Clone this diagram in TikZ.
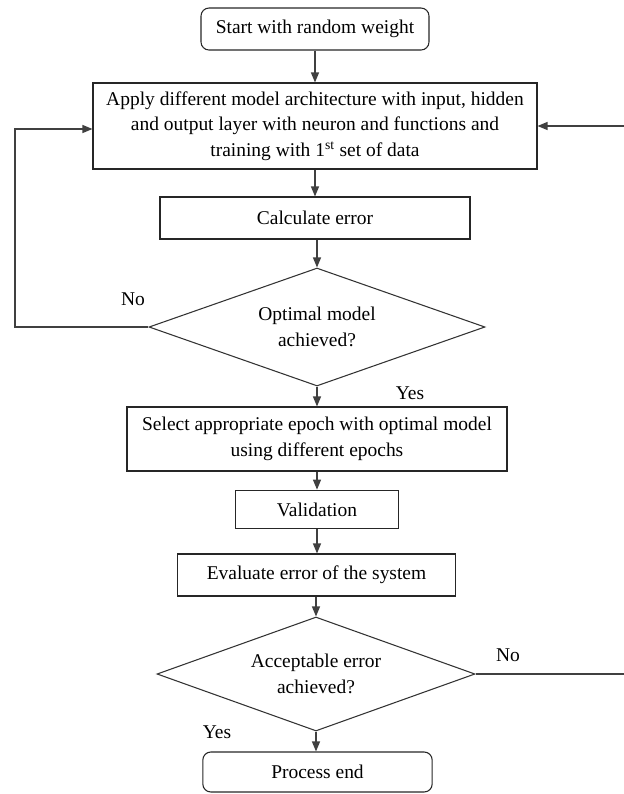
\documentclass[tikz,border=0pt]{standalone}
\usepackage{fontspec}
\setmainfont{Liberation Serif}
\usepackage{tikz}
\usetikzlibrary{arrows.meta,shapes.geometric,calc}

\tikzset{
  box/.style={draw=black!85, line width=0.8pt, align=center, inner sep=2pt},
  rbox/.style={box, rounded corners=6pt},
  decide/.style={draw=black!80, line width=0.8pt, diamond, aspect=2.8, inner sep=0pt, align=center},
  line/.style={draw=black!75, line width=0.9pt},
  arr/.style={line, -{Triangle[width=6pt,length=7.5pt]}},
  lbl/.style={inner sep=1pt}
}

\begin{document}
\begin{tikzpicture}[x=0.75pt, y=-0.75pt, font=\fontsize{14.6}{19}\selectfont]
\useasboundingbox (0,0) rectangle (624,794);
% boxes
\node[rbox, minimum width=171pt, minimum height=31.5pt] (start) at (315,29) {Start with random weight};
\node[box, minimum width=333pt, minimum height=64.5pt] (apply) at (315,126) {Apply different model architecture with input, hidden\\and output layer with neuron and functions and\\training with 1\textsuperscript{st} set of data};
\node[box, minimum width=232.5pt, minimum height=31.5pt] (calc) at (315,218) {Calculate error};
\node[decide, minimum width=252pt, minimum height=88.5pt] (opt) at (317,327) {Optimal model\\achieved?};
\node[box, minimum width=285pt, minimum height=48pt] (select) at (317,439) {Select appropriate epoch with optimal model\\using different epochs};
\node[box, minimum width=122pt, minimum height=29pt] (valid) at (317,509.5) {Validation};
\node[box, minimum width=208pt, minimum height=31.5pt] (eval) at (316.5,575) {Evaluate error of the system};
\node[decide, minimum width=238.5pt, minimum height=85.5pt] (accept) at (316,674) {Acceptable error\\achieved?};
\node[rbox, minimum width=172pt, minimum height=30pt] (stop) at (317.5,772) {Process end};
% loop ends
\coordinate (loopL) at (15,0);
\coordinate (loopR) at (640,0);
% labels
\node[lbl] (no1) at (133,299) {No};
\node[lbl] (yes1) at (410,393) {Yes};
\node[lbl] (no2) at (508,655) {No};
\node[lbl] (yes2) at (217,732) {Yes};
% connectors
\draw[arr] (start) -- (start |- apply.north);
\draw[arr] (apply.south -| calc) -- (calc);
\draw[arr] (calc.south -| opt) -- (opt.north);
\draw[arr] (opt.south) -- (opt.south |- select.north);
\draw[arr] (select.south -| valid) -- (valid.north);
\draw[arr] (valid.south) -- (valid.south |- eval.north);
\draw[arr] (eval.south -| accept) -- (accept.north);
\draw[arr] (accept.south) -- (accept.south |- stop.north);
\draw[arr] (opt.west) -- (loopL |- opt.west) |- ($(apply.west)+(0,3)$);
\draw[arr] (accept.east) -- (loopR |- accept.east) |- (apply.east);
\end{tikzpicture}
\end{document}
